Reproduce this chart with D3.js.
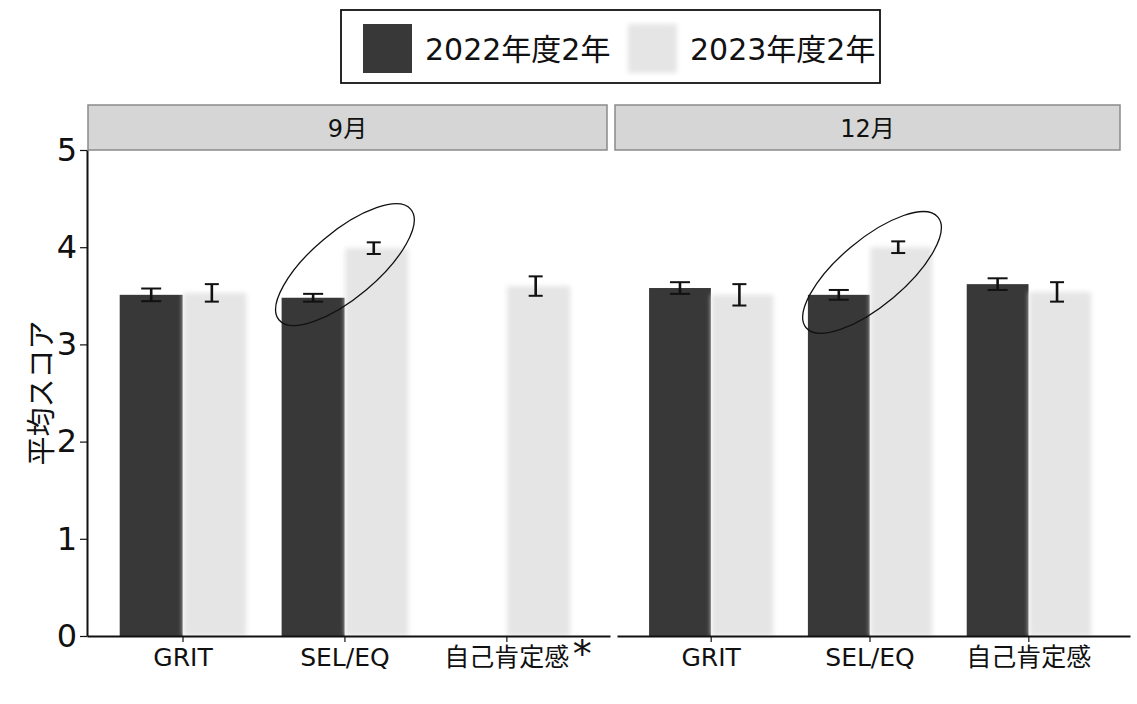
<!DOCTYPE html>
<html>
<head>
<meta charset="utf-8">
<script src="https://cdn.jsdelivr.net/npm/d3@7"></script>
<style>
  body { margin: 0; background: #fff; }
  text { font-family: "DejaVu Sans", "Noto Sans CJK JP", sans-serif; fill: #111; }
</style>
</head>
<body>
<div id="chart"></div>
<script>
// data
var categories = ["GRIT", "SEL/EQ", "自己肯定感"];
var months = ["9月", "12月"];
var seriesNames = ["2022年度2年", "2023年度2年"];
var mean2022 = [[3.51, 3.48, null], [3.58, 3.51, 3.62]];
var err2022 = [[0.065, 0.04, null], [0.06, 0.05, 0.06]];
var mean2023 = [[3.53, 3.99, 3.60], [3.51, 4.00, 3.54]];
var err2023 = [[0.09, 0.06, 0.10], [0.11, 0.06, 0.10]];
var yTicks = [0, 1, 2, 3, 4, 5];

var svgWidth = 1137;
var svgHeight = 704;
var colors = ["#383838", "#e5e5e5"];

var svg = d3.select("#chart")
  .append("svg")
  .attr("width", svgWidth)
  .attr("height", svgHeight);

var defs = svg.append("defs");
defs.append("filter")
  .attr("id", "soft")
  .attr("x", "-20%").attr("y", "-5%").attr("width", "140%").attr("height", "110%")
  .append("feGaussianBlur")
  .attr("stdDeviation", 2.5);

var yScale = d3.scaleLinear()
  .domain([0, 5])
  .range([636, 150]);

var panels = [
  { x0: 87, x1: 610, stripX0: 88, stripX1: 607 },
  { x0: 617, x1: 1130, stripX0: 615, stripX1: 1120 }
];

panels.forEach(function(p, m) {
  var x = d3.scaleBand()
    .domain(categories)
    .range([p.x0, p.x1])
    .paddingInner(0.21)
    .paddingOuter(0.22)
    .align(0.45);

  var xSub = d3.scaleBand()
    .domain(seriesNames)
    .range([0, x.bandwidth()])
    .padding(0.01);

  var g = svg.append("g");

  // strip header
  g.append("rect")
    .attr("x", p.stripX0)
    .attr("y", 105)
    .attr("width", p.stripX1 - p.stripX0)
    .attr("height", 45)
    .attr("fill", "#d6d6d6")
    .attr("stroke", "#8a8a8a")
    .attr("stroke-width", 1.5);

  g.append("text")
    .attr("x", (p.stripX0 + p.stripX1) / 2)
    .attr("y", 137)
    .attr("text-anchor", "middle")
    .attr("font-size", "24px")
    .text(months[m]);

  var rows = categories.map(function(c, i) {
    return [
      { cat: c, s: seriesNames[0], v: mean2022[m][i], e: err2022[m][i] },
      { cat: c, s: seriesNames[1], v: mean2023[m][i], e: err2023[m][i] }
    ];
  });
  var flat = d3.merge(rows).filter(function(d) { return d.v !== null; });

  g.selectAll(".bar")
    .data(flat)
    .enter()
    .append("rect")
    .attr("class", "bar")
    .attr("x", function(d) { return x(d.cat) + xSub(d.s); })
    .attr("y", function(d) { return yScale(d.v); })
    .attr("width", xSub.bandwidth())
    .attr("height", function(d) { return yScale(0) - yScale(d.v); })
    .attr("fill", function(d) { return d.s === seriesNames[0] ? colors[0] : colors[1]; })
    .attr("filter", function(d) { return d.s === seriesNames[1] ? "url(#soft)" : null; });

  // error bars
  var eb = g.selectAll(".err")
    .data(flat)
    .enter()
    .append("g")
    .attr("class", "err")
    .attr("stroke", "#111")
    .attr("stroke-width", 2);

  function cx(d) { return x(d.cat) + xSub(d.s) + xSub.bandwidth() / 2 - (d.s === seriesNames[1] ? 3 : 0); }
  function cap(d) { return d.s === seriesNames[0] ? 10 : 7; }

  eb.append("line")
    .attr("x1", cx).attr("x2", cx)
    .attr("stroke-width", 2.6)
    .attr("y1", function(d) { return yScale(d.v + d.e); })
    .attr("y2", function(d) { return yScale(d.v - d.e); });
  eb.append("line")
    .attr("x1", function(d) { return cx(d) - cap(d); })
    .attr("x2", function(d) { return cx(d) + cap(d); })
    .attr("y1", function(d) { return yScale(d.v + d.e); })
    .attr("y2", function(d) { return yScale(d.v + d.e); });
  eb.append("line")
    .attr("x1", function(d) { return cx(d) - cap(d); })
    .attr("x2", function(d) { return cx(d) + cap(d); })
    .attr("y1", function(d) { return yScale(d.v - d.e); })
    .attr("y2", function(d) { return yScale(d.v - d.e); });

  // x axis
  var xAxis = g.append("g")
    .attr("transform", "translate(0," + yScale(0) + ")")
    .call(d3.axisBottom(x).tickSize(6).tickSizeOuter(0).tickPadding(6));
  xAxis.select(".domain").attr("stroke", "#111").attr("stroke-width", 2);
  xAxis.selectAll(".tick line").attr("stroke", "#111").attr("stroke-width", 1.2);
  xAxis.selectAll(".tick text")
    .attr("font-size", "25px")
    .attr("fill", "#111")
    .style("font-family", "\"DejaVu Sans\", \"Noto Sans CJK JP\", sans-serif");

  if (m === 0) {
    // significance mark on 自己肯定感
    var c3 = x(categories[2]) + x.bandwidth() / 2;
    g.append("text")
      .attr("x", c3 + 66)
      .attr("y", 667)
      .attr("font-size", "38px")
      .style("font-family", "\"DejaVu Sans\", sans-serif")
      .text("*");

    var yAxis = g.append("g")
      .attr("transform", "translate(" + p.x0 + ",0)")
      .call(d3.axisLeft(yScale).tickValues(yTicks).tickFormat(d3.format("d")).tickSize(7).tickSizeOuter(0).tickPadding(3));
    yAxis.select(".domain").attr("stroke", "#111").attr("stroke-width", 2);
    yAxis.selectAll(".tick line").attr("stroke", "#111").attr("stroke-width", 1.2);
    yAxis.selectAll(".tick text")
      .attr("font-size", "32px")
      .attr("fill", "#111")
      .style("font-family", "\"DejaVu Sans\", sans-serif");
  }

  // annotation ellipse around SEL/EQ
  var ex = x(categories[1]) + x.bandwidth() / 2;
  var ey = yScale(m === 0 ? 3.82 : 3.74);
  g.append("ellipse")
    .attr("cx", 0).attr("cy", 0)
    .attr("rx", 86).attr("ry", 33)
    .attr("transform", "translate(" + (ex + (m === 0 ? 0 : 2)) + "," + ey + ") rotate(-40)")
    .attr("fill", "none")
    .attr("stroke", "#111")
    .attr("stroke-width", 1.3);
});

// y title
svg.append("text")
  .attr("transform", "translate(52," + yScale(2.5) + ") rotate(-90)")
  .attr("text-anchor", "middle")
  .attr("font-size", "29px")
  .style("font-family", "\"Noto Sans CJK JP\", sans-serif")
  .text("平均スコア");

// legend
var legend = svg.append("g");
legend.append("rect")
  .attr("x", 341).attr("y", 10)
  .attr("width", 539).attr("height", 73)
  .attr("fill", "#fff")
  .attr("stroke", "#111")
  .attr("stroke-width", 1.8);

var legendX = [363, 628];
seriesNames.forEach(function(s, i) {
  legend.append("rect")
    .attr("x", legendX[i]).attr("y", 24)
    .attr("width", 49).attr("height", 49)
    .attr("fill", colors[i])
    .attr("filter", i === 1 ? "url(#soft)" : null);
  legend.append("text")
    .attr("x", legendX[i] + 62)
    .attr("y", 60)
    .attr("font-size", "30px")
    .text(s);
});
</script>
</body>
</html>
